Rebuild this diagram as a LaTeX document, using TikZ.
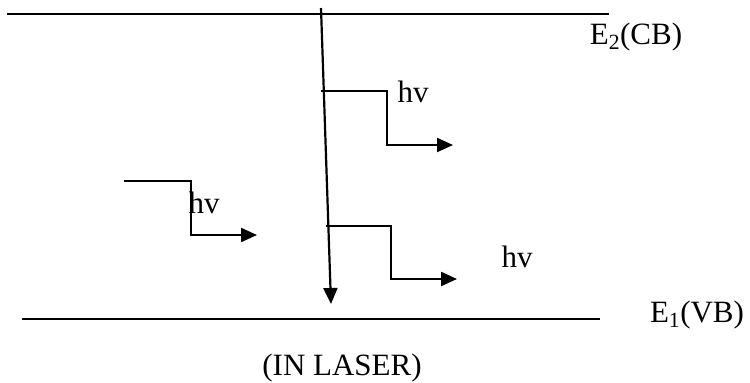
\documentclass[tikz,border=0pt]{standalone}
\usepackage{fontspec}
\setmainfont{Liberation Serif}
\usepackage{tikz}
\usetikzlibrary{arrows.meta}

\tikzset{
  level/.style={line width=1.8pt},
  photon/.style={line width=2.2pt, -{Triangle[length=16pt, width=14pt]}},
  lbl/.style={font=\fontsize{31}{36}\selectfont, inner sep=0pt, anchor=base}
}

\begin{document}
\begin{tikzpicture}[x=1pt, y=-1pt]
    \useasboundingbox (0,0) rectangle (750,383);
    % energy levels
    \coordinate (cbL) at (7,14);   \coordinate (cbR) at (609,14);
    \coordinate (vbL) at (22,319); \coordinate (vbR) at (600,319);
    \draw[level] (cbL) -- (cbR);
    \draw[level] (vbL) -- (vbR);
    \node[lbl] (cb) at (636,44) {E\textsubscript{2}(CB)};
    \node[lbl] (vb) at (697,322) {E\textsubscript{1}(VB)};
    % transition
    \coordinate (top) at (321,8);
    \coordinate (bot) at (331,304);
    \draw[photon] (top) -- (bot);
    % emitted photons
    \foreach \n/\xa/\xb/\ya/\yb/\xe in {up/321/387/91/145/453, low/326/391/226/279/457, left/124/191/181/235/257}{
      \coordinate (\n a) at (\xa,\ya);
      \coordinate (\n b) at (\xb,\ya);
      \coordinate (\n c) at (\xb,\yb);
      \coordinate (\n d) at (\xe,\yb);
      \draw[photon] (\n a) -- (\n b) -- (\n c) -- (\n d);
    }
    \node[lbl] (hvup) at (413,102) {hv};
    \node[lbl] (hvleft) at (204,213) {hv};
    \node[lbl] (hvlow) at (517,267) {hv};
    \node[lbl] (cap) at (342,375) {(IN LASER)};
\end{tikzpicture}
\end{document}
